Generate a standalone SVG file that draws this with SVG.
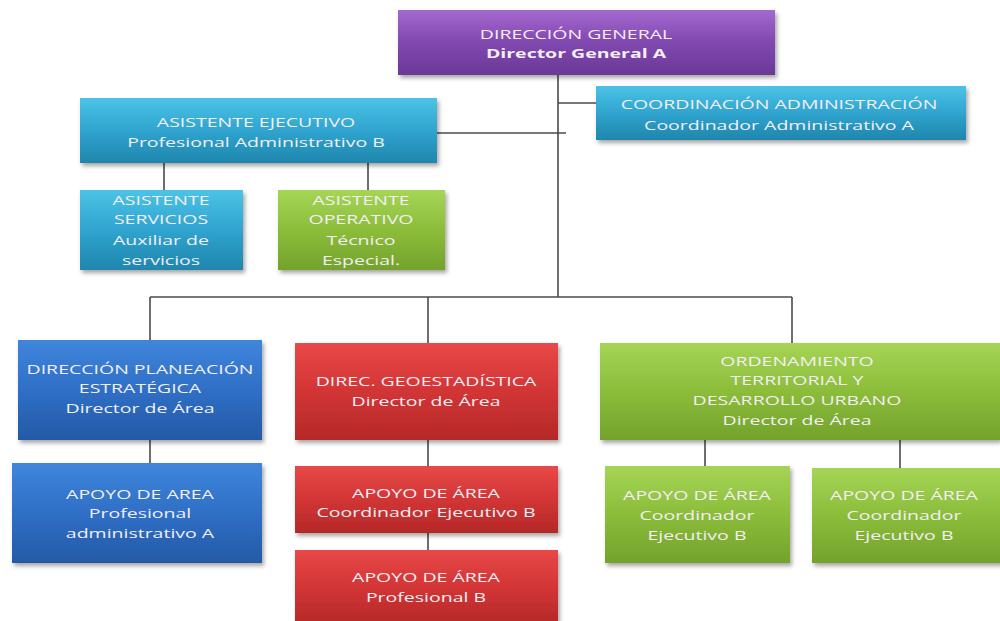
<svg xmlns="http://www.w3.org/2000/svg" width="1000" height="621" viewBox="0 0 1000 621">
<defs>
<linearGradient id="gPurple" x1="0" y1="0" x2="0" y2="1"><stop offset="0" stop-color="#a469cf"/><stop offset="0.5" stop-color="#8048b0"/><stop offset="1" stop-color="#6a3996"/></linearGradient>
<linearGradient id="gCyan" x1="0" y1="0" x2="0" y2="1"><stop offset="0" stop-color="#4cc3e6"/><stop offset="0.5" stop-color="#2fa4cf"/><stop offset="1" stop-color="#1f86ad"/></linearGradient>
<linearGradient id="gGreen" x1="0" y1="0" x2="0" y2="1"><stop offset="0" stop-color="#a6d556"/><stop offset="0.5" stop-color="#8bbd3a"/><stop offset="1" stop-color="#74a22c"/></linearGradient>
<linearGradient id="gBlue" x1="0" y1="0" x2="0" y2="1"><stop offset="0" stop-color="#3f86dc"/><stop offset="0.5" stop-color="#2f6fc6"/><stop offset="1" stop-color="#245aa6"/></linearGradient>
<linearGradient id="gRed" x1="0" y1="0" x2="0" y2="1"><stop offset="0" stop-color="#e84848"/><stop offset="0.5" stop-color="#d23535"/><stop offset="1" stop-color="#b52828"/></linearGradient>
<filter id="sh" x="-5%" y="-5%" width="112%" height="125%"><feDropShadow dx="2" dy="3" stdDeviation="2" flood-color="#000" flood-opacity="0.35"/></filter>
</defs>
<style>
.box{filter:url(#sh)}
text{font-family:"Open Sans","Liberation Sans",sans-serif;font-size:13px;fill:#f2eef4;text-anchor:middle}
.b{font-weight:bold}
.conn line{stroke:#4a4a4a;stroke-width:1.6}
</style>
<rect width="1000" height="621" fill="#ffffff"/>
<g class="conn">
<line x1="558" y1="75" x2="558" y2="297"/>
<line x1="558" y1="103" x2="596" y2="103"/>
<line x1="437" y1="133" x2="566" y2="133"/>
<line x1="164" y1="163" x2="164" y2="190"/>
<line x1="368" y1="163" x2="368" y2="190"/>
<line x1="150" y1="297" x2="792" y2="297"/>
<line x1="150" y1="297" x2="150" y2="340"/>
<line x1="428" y1="297" x2="428" y2="343"/>
<line x1="792" y1="297" x2="792" y2="343"/>
<line x1="150" y1="440" x2="150" y2="463"/>
<line x1="428" y1="440" x2="428" y2="466"/>
<line x1="428" y1="533" x2="428" y2="550"/>
<line x1="705" y1="440" x2="705" y2="466"/>
<line x1="900" y1="440" x2="900" y2="468"/>
</g>
<g id="direccion-general">
<rect class="box" x="398" y="10" width="377" height="65" fill="url(#gPurple)"/>
<text transform="translate(576 39) scale(1.5 1)">DIRECCIÓN GENERAL</text>
<text class="b" transform="translate(576 58) scale(1.5 1)">Director General A</text>
</g>
<g id="asistente-ejecutivo">
<rect class="box" x="80" y="98" width="357" height="65" fill="url(#gCyan)"/>
<text transform="translate(256 127) scale(1.5 1)">ASISTENTE EJECUTIVO</text>
<text transform="translate(256 147) scale(1.5 1)">Profesional Administrativo B</text>
</g>
<g id="coordinacion-administracion">
<rect class="box" x="596" y="86" width="370" height="54" fill="url(#gCyan)"/>
<text transform="translate(779 109) scale(1.5 1)">COORDINACIÓN ADMINISTRACIÓN</text>
<text transform="translate(779 130) scale(1.5 1)">Coordinador Administrativo A</text>
</g>
<g id="asistente-servicios">
<rect class="box" x="80" y="190" width="163" height="80" fill="url(#gCyan)"/>
<text transform="translate(161 205) scale(1.5 1)">ASISTENTE</text>
<text transform="translate(161 224) scale(1.5 1)">SERVICIOS</text>
<text transform="translate(161 245) scale(1.5 1)">Auxiliar de</text>
<text transform="translate(161 265) scale(1.5 1)">servicios</text>
</g>
<g id="asistente-operativo">
<rect class="box" x="278" y="190" width="167" height="80" fill="url(#gGreen)"/>
<text transform="translate(361 205) scale(1.5 1)">ASISTENTE</text>
<text transform="translate(361 224) scale(1.5 1)">OPERATIVO</text>
<text transform="translate(361 245) scale(1.5 1)">Técnico</text>
<text transform="translate(361 265) scale(1.5 1)">Especial.</text>
</g>
<g id="direccion-planeacion">
<rect class="box" x="18" y="340" width="244" height="100" fill="url(#gBlue)"/>
<text transform="translate(140 374) scale(1.5 1)">DIRECCIÓN PLANEACIÓN</text>
<text transform="translate(140 393) scale(1.5 1)">ESTRATÉGICA</text>
<text transform="translate(140 413) scale(1.5 1)">Director de  Área</text>
</g>
<g id="direc-geoestadistica">
<rect class="box" x="295" y="343" width="263" height="97" fill="url(#gRed)"/>
<text transform="translate(426 386) scale(1.5 1)">DIREC. GEOESTADÍSTICA</text>
<text transform="translate(426 406) scale(1.5 1)">Director de Área</text>
</g>
<g id="ordenamiento-territorial">
<rect class="box" x="600" y="343" width="400" height="97" fill="url(#gGreen)"/>
<text transform="translate(797 366) scale(1.5 1)">ORDENAMIENTO</text>
<text transform="translate(797 385) scale(1.5 1)">TERRITORIAL  Y</text>
<text transform="translate(797 405) scale(1.5 1)">DESARROLLO URBANO</text>
<text transform="translate(797 425) scale(1.5 1)">Director de Área</text>
</g>
<g id="apoyo-planeacion">
<rect class="box" x="12" y="463" width="250" height="100" fill="url(#gBlue)"/>
<text transform="translate(140 499) scale(1.5 1)">APOYO DE AREA</text>
<text transform="translate(140 518) scale(1.5 1)">Profesional</text>
<text transform="translate(140 538) scale(1.5 1)">administrativo A</text>
</g>
<g id="apoyo-geo-1">
<rect class="box" x="295" y="466" width="263" height="67" fill="url(#gRed)"/>
<text transform="translate(426 498) scale(1.5 1)">APOYO DE ÁREA</text>
<text transform="translate(426 517) scale(1.5 1)">Coordinador Ejecutivo B</text>
</g>
<g id="apoyo-geo-2">
<rect class="box" x="295" y="550" width="263" height="75" fill="url(#gRed)"/>
<text transform="translate(426 582) scale(1.5 1)">APOYO DE ÁREA</text>
<text transform="translate(426 602) scale(1.5 1)">Profesional B</text>
</g>
<g id="apoyo-ot-1">
<rect class="box" x="605" y="466" width="185" height="97" fill="url(#gGreen)"/>
<text transform="translate(697 500) scale(1.5 1)">APOYO DE ÁREA</text>
<text transform="translate(697 520) scale(1.5 1)">Coordinador</text>
<text transform="translate(697 540) scale(1.5 1)">Ejecutivo  B</text>
</g>
<g id="apoyo-ot-2">
<rect class="box" x="812" y="468" width="190" height="95" fill="url(#gGreen)"/>
<text transform="translate(904 500) scale(1.5 1)">APOYO DE ÁREA</text>
<text transform="translate(904 520) scale(1.5 1)">Coordinador</text>
<text transform="translate(904 540) scale(1.5 1)">Ejecutivo B</text>
</g>
</svg>
